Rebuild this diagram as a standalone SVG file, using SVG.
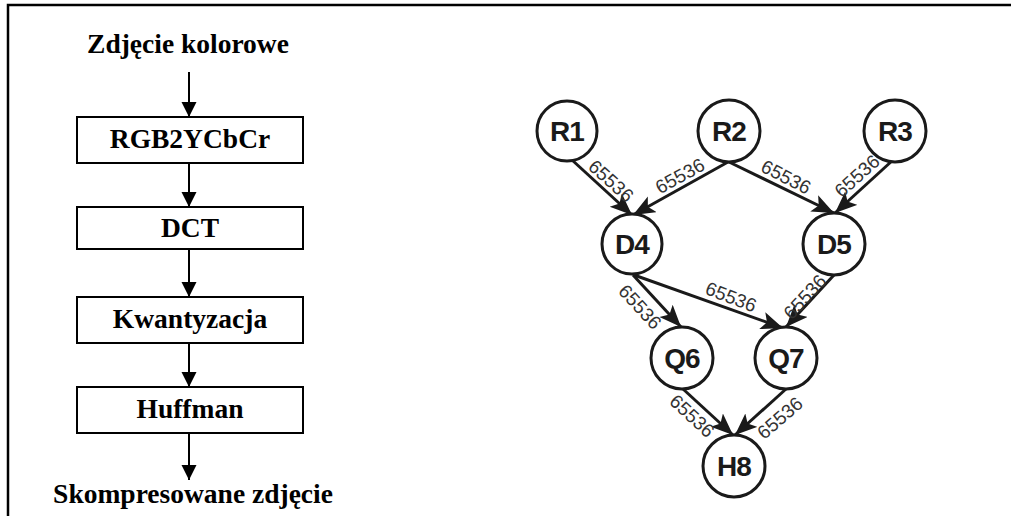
<svg xmlns="http://www.w3.org/2000/svg" width="1011" height="516" viewBox="0 0 1011 516">
  <style>
    .frame { fill: none; stroke: #000; stroke-width: 2.5; }
    .step { fill: #fff; stroke: #000; stroke-width: 2; }
    .flow { stroke: #000; stroke-width: 2; fill: none; }
    .title { font-family: "Liberation Serif", "Times New Roman", serif; font-weight: bold; font-size: 27.5px; fill: #000; text-anchor: middle; }
    .node circle { fill: #fff; stroke: #1a1a1a; stroke-width: 3; }
    .node text { font-family: "Liberation Sans", Arial, sans-serif; font-weight: bold; font-size: 28px; letter-spacing: -1px; fill: #1a1a1a; text-anchor: middle; }
    .edge { stroke: #1a1a1a; stroke-width: 3; fill: none; }
    .weight { font-family: "Liberation Sans", Arial, sans-serif; font-size: 19px; fill: #333; text-anchor: middle; dominant-baseline: central; }
  </style>
  <defs>
    <marker id="tri" markerUnits="userSpaceOnUse" markerWidth="16" markerHeight="16" refX="15" refY="7.5" orient="auto">
      <path d="M0,0 L15,7.5 L0,15 z" fill="#000"/>
    </marker>
    <marker id="head" markerUnits="userSpaceOnUse" markerWidth="24" markerHeight="20" refX="22" refY="9" orient="auto">
      <path d="M0,0 L22,9 L0,18 L5,9 z" fill="#1a1a1a"/>
    </marker>
  </defs>

  <!-- border -->
  <path class="frame" d="M8,516 L8,5 L1011,5"/>

  <!-- JPEG pipeline -->
  <g id="pipeline">
    <text class="title" x="188" y="53">Zdjęcie kolorowe</text>
    <g id="flow-arrows">
      <line class="flow" x1="189" y1="72" x2="189" y2="117" marker-end="url(#tri)"/>
      <line class="flow" x1="189" y1="163" x2="189" y2="207" marker-end="url(#tri)"/>
      <line class="flow" x1="189" y1="249" x2="189" y2="297" marker-end="url(#tri)"/>
      <line class="flow" x1="189" y1="343" x2="189" y2="387" marker-end="url(#tri)"/>
      <line class="flow" x1="189" y1="433" x2="189" y2="480" marker-end="url(#tri)"/>
    </g>
    <g id="step-rgb">
      <rect class="step" x="77" y="117" width="226" height="46"/>
      <text class="title" x="190" y="148">RGB2YCbCr</text>
    </g>
    <g id="step-dct">
      <rect class="step" x="77" y="207" width="226" height="42"/>
      <text class="title" x="190" y="237">DCT</text>
    </g>
    <g id="step-quant">
      <rect class="step" x="77" y="297" width="226" height="46"/>
      <text class="title" x="190" y="328">Kwantyzacja</text>
    </g>
    <g id="step-huffman">
      <rect class="step" x="77" y="387" width="226" height="46"/>
      <text class="title" x="190" y="418">Huffman</text>
    </g>
    <text class="title" x="193" y="503">Skompresowane zdjęcie</text>
  </g>

  <!-- task graph edges -->
  <g id="edges">
    <line class="edge" x1="572" y1="160" x2="632" y2="215" marker-end="url(#head)"/>
    <line class="edge" x1="728" y1="162" x2="633" y2="215" marker-end="url(#head)"/>
    <line class="edge" x1="729" y1="162" x2="834" y2="213" marker-end="url(#head)"/>
    <line class="edge" x1="893" y1="160" x2="835" y2="213" marker-end="url(#head)"/>
    <line class="edge" x1="633" y1="275" x2="681" y2="327" marker-end="url(#head)"/>
    <line class="edge" x1="634" y1="275" x2="783" y2="328" marker-end="url(#head)"/>
    <line class="edge" x1="834" y1="275" x2="786" y2="327" marker-end="url(#head)"/>
    <line class="edge" x1="683" y1="389" x2="733" y2="435" marker-end="url(#head)"/>
    <line class="edge" x1="786" y1="389" x2="735" y2="435" marker-end="url(#head)"/>

    <text class="weight" transform="translate(611,181) rotate(42)">65536</text>
    <text class="weight" transform="translate(680,176) rotate(-29)">65536</text>
    <text class="weight" transform="translate(786,177) rotate(27)">65536</text>
    <text class="weight" transform="translate(857,176) rotate(-42)">65536</text>
    <text class="weight" transform="translate(640,307) rotate(47)">65536</text>
    <text class="weight" transform="translate(731,297) rotate(21)">65536</text>
    <text class="weight" transform="translate(805,297) rotate(-47)">65536</text>
    <text class="weight" transform="translate(692,416) rotate(43)">65536</text>
    <text class="weight" transform="translate(780,418) rotate(-41)">65536</text>
  </g>

  <!-- task graph nodes -->
  <g id="R1" class="node"><circle cx="567" cy="131" r="30"/><text x="567" y="141">R1</text></g>
  <g id="R2" class="node"><circle cx="729" cy="131" r="31"/><text x="729" y="141">R2</text></g>
  <g id="R3" class="node"><circle cx="895" cy="131" r="31"/><text x="895" y="141">R3</text></g>
  <g id="D4" class="node"><circle cx="632" cy="244" r="30"/><text x="632" y="254">D4</text></g>
  <g id="D5" class="node"><circle cx="834" cy="244" r="31"/><text x="834" y="254">D5</text></g>
  <g id="Q6" class="node"><circle cx="682" cy="358" r="31"/><text x="682" y="368">Q6</text></g>
  <g id="Q7" class="node"><circle cx="786" cy="358" r="31"/><text x="786" y="368">Q7</text></g>
  <g id="H8" class="node"><circle cx="734" cy="466" r="31"/><text x="734" y="476">H8</text></g>
</svg>
